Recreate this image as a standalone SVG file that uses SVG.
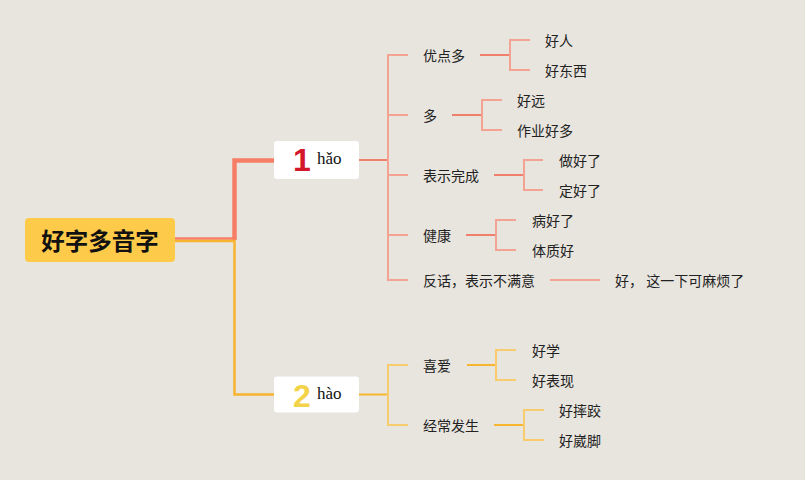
<svg xmlns="http://www.w3.org/2000/svg" width="805" height="480" viewBox="0 0 805 480">
<style>
.t{font-family:"Noto Sans CJK SC","Noto Sans",sans-serif;font-size:14px;fill:#222;dominant-baseline:central}
.py{font-family:"Liberation Serif",serif;font-size:17px;fill:#111;dominant-baseline:central}
.r1{stroke:#F4A292;stroke-width:2;fill:none}
.r2{stroke:#F0806C;stroke-width:2;fill:none}
.y1{stroke:#F8CB6C;stroke-width:2;fill:none}
.y2{stroke:#F7B62F;stroke-width:2;fill:none}
.box{fill:#fff}
.num{font-family:"Liberation Sans",sans-serif;font-size:32px;font-weight:bold;dominant-baseline:central}
</style>
<rect width="805" height="480" fill="#E8E5DE"/>
<g id="connectors">
<path d="M175,238.5 H234.5" stroke="#F77E66" stroke-width="2.5" fill="none"/>
<path d="M234.5,240 V160.5 H274" stroke="#F77E66" stroke-width="4.5" fill="none"/>
<path d="M175,241 H234.5 V394.5 H274" stroke="#F8B431" stroke-width="2.5" fill="none"/>
<path class="r2" d="M359,160 H388"/>
<path class="r1" d="M408,55 H388 V280 H408 M388,115 H408 M388,175 H408 M388,235 H408"/>
<path class="r2" d="M480,55 H510"/>
<path class="r1" d="M530,40 H510 V70 H530"/>
<path class="r2" d="M452,115 H482"/>
<path class="r1" d="M502,100 H482 V130 H502"/>
<path class="r2" d="M494,175 H524"/>
<path class="r1" d="M543,160 H524 V190 H543"/>
<path class="r2" d="M466,235 H496"/>
<path class="r1" d="M516,220 H496 V250 H516"/>
<path class="r1" d="M550,280 H600"/>
<path class="y2" d="M359,394.5 H388"/>
<path class="y1" d="M408,365 H388 V425 H408"/>
<path class="y2" d="M467,365 H496"/>
<path class="y1" d="M516,350 H496 V380 H516"/>
<path class="y2" d="M494,425 H524"/>
<path class="y1" d="M544,410 H524 V440 H544"/>
</g>
<g id="root">
<rect x="25" y="218" width="150" height="44" rx="4" fill="#FECA4A"/>
<text x="100" y="240" text-anchor="middle" style="font-family:'Noto Sans CJK SC',sans-serif;font-size:23.5px;font-weight:bold;fill:#111;dominant-baseline:central">好字多音字</text>
</g>
<g id="hao3">
<rect class="box" x="274" y="141" width="85" height="38" rx="3"/>
<text class="num" x="302" y="160" text-anchor="middle" fill="#D3182C">1</text>
<text class="py" x="317" y="158">hǎo</text>
</g>
<g id="hao4">
<rect class="box" x="274" y="376.5" width="85" height="36" rx="3"/>
<text class="num" x="302" y="396" text-anchor="middle" fill="#F3D347">2</text>
<text class="py" x="317" y="393">hào</text>
</g>
<g id="youdianduo"><text class="t" x="423" y="55">优点多</text></g>
<g id="haoren"><text class="t" x="545" y="40">好人</text></g>
<g id="haodongxi"><text class="t" x="545" y="70">好东西</text></g>
<g id="duo"><text class="t" x="423" y="115">多</text></g>
<g id="haoyuan"><text class="t" x="517" y="100">好远</text></g>
<g id="zuoye"><text class="t" x="517" y="130">作业好多</text></g>
<g id="wancheng"><text class="t" x="423" y="175">表示完成</text></g>
<g id="zuohaole"><text class="t" x="559" y="160">做好了</text></g>
<g id="dinghaole"><text class="t" x="559" y="190">定好了</text></g>
<g id="jiankang"><text class="t" x="423" y="235">健康</text></g>
<g id="binghaole"><text class="t" x="532" y="220">病好了</text></g>
<g id="tizhi"><text class="t" x="532" y="250">体质好</text></g>
<g id="fanhua"><text class="t" x="423" y="280">反话，表示不满意</text></g>
<g id="mafan"><text class="t" x="615" y="280" xml:space="preserve">好， 这一下可麻烦了</text></g>
<g id="xiai"><text class="t" x="423" y="365">喜爱</text></g>
<g id="haoxue"><text class="t" x="532" y="350">好学</text></g>
<g id="haobiaoxian"><text class="t" x="532" y="380">好表现</text></g>
<g id="jingchang"><text class="t" x="423" y="425">经常发生</text></g>
<g id="shuaijiao"><text class="t" x="559" y="410">好摔跤</text></g>
<g id="waijiao"><text class="t" x="559" y="440">好崴脚</text></g>
</svg>
